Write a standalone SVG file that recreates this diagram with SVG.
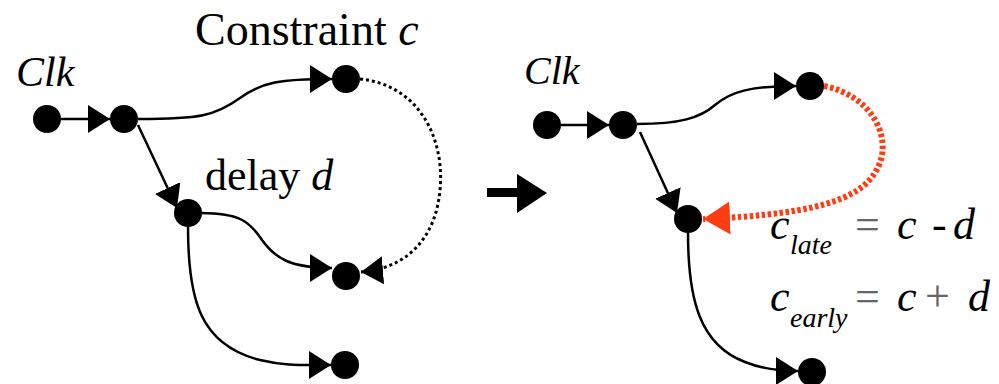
<svg xmlns="http://www.w3.org/2000/svg" width="999" height="384" viewBox="0 0 999 384">
  <style>
    .node { fill: #000; }
    .edge { fill: none; stroke: #000; stroke-width: 2.5; }
    .dot { fill: none; stroke: #000; stroke-width: 3; stroke-dasharray: 3 3; }
    .red { fill: none; stroke: #ff3d12; stroke-width: 6; stroke-dasharray: 3.5 2.5; }
    .t { font-family: "Liberation Serif", "Times New Roman", serif; fill: #000; }
    .i { font-style: italic; }
    .op { fill: #666; }
  </style>
  <defs>
    <marker id="tri" viewBox="0 0 22 28" refX="22" refY="14" markerWidth="22" markerHeight="28" markerUnits="userSpaceOnUse" orient="auto">
      <path d="M0,0 L22,14 L0,28 z" fill="#000"/>
    </marker>
    <marker id="triRed" viewBox="0 0 27 33" refX="27" refY="16.5" markerWidth="27" markerHeight="33" markerUnits="userSpaceOnUse" orient="auto">
      <path d="M0,0 L27,16.5 L0,33 z" fill="#ff3d12"/>
    </marker>
  </defs>

  <!-- labels -->
  <text class="t i" x="16" y="86" font-size="42">Clk</text>
  <text class="t" x="195" y="45" font-size="46">Constraint <tspan class="i">c</tspan></text>
  <text class="t" x="205" y="190" font-size="44">delay <tspan class="i">d</tspan></text>
  <text class="t i" x="524" y="84" font-size="40">Clk</text>

  <text class="t i" x="770" y="239" font-size="44">c</text>
  <text class="t i" x="790" y="254" font-size="28">late</text>
  <text class="t op" x="855" y="239" font-size="44">=</text>
  <text class="t i" x="897" y="239" font-size="44">c</text>
  <text class="t" x="932" y="239" font-size="44">-</text>
  <text class="t i" x="953" y="239" font-size="44">d</text>

  <text class="t i" x="770" y="311" font-size="44">c</text>
  <text class="t i" x="790" y="327" font-size="28">early</text>
  <text class="t op" x="855" y="311" font-size="44">=</text>
  <text class="t i" x="897" y="311" font-size="44">c</text>
  <text class="t op" x="925" y="311" font-size="44">+</text>
  <text class="t i" x="968" y="311" font-size="44">d</text>

  <!-- connectors -->
  <g id="connectors">
    <path class="edge" d="M61,119 L110,119" marker-end="url(#tri)"/>
    <path class="edge" d="M138,119 C200,119 215,116 240,98 C262,82 280,79 332,79" marker-end="url(#tri)"/>
    <path class="edge" d="M138,125 L177,208" marker-end="url(#tri)"/>
    <path class="edge" d="M201,213 C240,213 250,222 262,240 C275,258 290,268 332,268" marker-end="url(#tri)"/>
    <path class="edge" d="M188,227 C188,300 200,345 260,360 C285,366 300,365 331,365" marker-end="url(#tri)"/>
    <path class="dot" d="M360,79 C420,85 445,140 440,190 C436,235 410,268 361,272" marker-end="url(#tri)"/>

    <path class="edge" d="M561,125 L609,125" marker-end="url(#tri)"/>
    <path class="edge" d="M637,124 C680,124 700,118 715,105 C730,92 750,86 796,86" marker-end="url(#tri)"/>
    <path class="edge" d="M640,132 L677,213" marker-end="url(#tri)"/>
    <path class="edge" d="M688,233 C688,300 700,345 745,362 C760,368 775,371 798,371" marker-end="url(#tri)"/>
    <path class="red" d="M824,86 C870,95 892,135 879,165 C866,195 830,214 703,219" marker-end="url(#triRed)"/>

    <!-- transformation arrow -->
    <path d="M487,192.5 L520,192.5" stroke="#000" stroke-width="9" fill="none"/>
    <path d="M517,174 L547,193 L517,213 z" fill="#000"/>
  </g>

  <!-- nodes -->
  <g id="clk"><circle class="node" cx="47" cy="119" r="14"/></g>
  <g id="fanout"><circle class="node" cx="124" cy="119" r="14"/></g>
  <g id="endpoint-c"><circle class="node" cx="346" cy="79" r="14"/></g>
  <g id="delay-node"><circle class="node" cx="188" cy="213" r="14"/></g>
  <g id="endpoint-d"><circle class="node" cx="346" cy="276" r="14"/></g>
  <g id="endpoint-f"><circle class="node" cx="345" cy="365" r="14"/></g>

  <g id="clk-2"><circle class="node" cx="547" cy="125" r="14"/></g>
  <g id="fanout-2"><circle class="node" cx="623" cy="125" r="14"/></g>
  <g id="endpoint-c-2"><circle class="node" cx="810" cy="86" r="14"/></g>
  <g id="delay-node-2"><circle class="node" cx="688" cy="219" r="14"/></g>
  <g id="endpoint-f-2"><circle class="node" cx="812" cy="372" r="14"/></g>
</svg>
